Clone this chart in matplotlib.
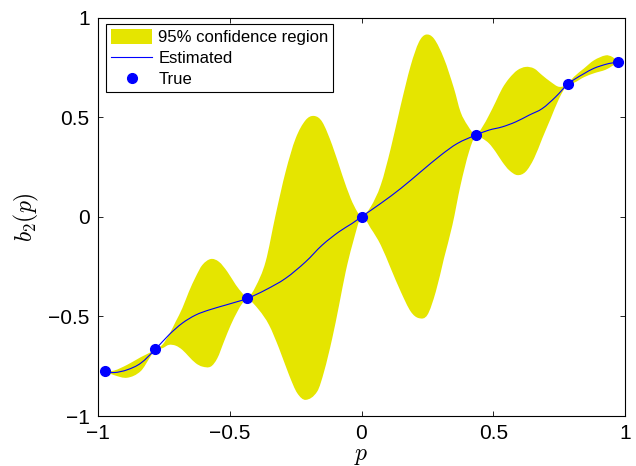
import matplotlib
matplotlib.use("Agg")
import matplotlib.pyplot as plt
from matplotlib.path import Path
from matplotlib.patches import PathPatch
from matplotlib.lines import Line2D
from matplotlib.patches import Patch

# ---- data ----
true_x = [-0.975, -0.782, -0.434, 0.0, 0.434, 0.782, 0.975]
true_y = [-0.775, -0.665, -0.410, 0.0, 0.410, 0.665, 0.775]

upper_x = [-0.975, -0.939, -0.889, -0.838, -0.800, -0.782, -0.756, -0.731, -0.705,
           -0.680, -0.655, -0.629, -0.604, -0.572, -0.541, -0.509, -0.477, -0.452,
           -0.434, -0.402, -0.364, -0.326, -0.288, -0.250, -0.212, -0.180, -0.149,
           -0.111, -0.073, -0.041, -0.016, 0.0, 0.035, 0.073, 0.111, 0.149, 0.187,
           0.218, 0.244, 0.275, 0.313, 0.351, 0.376, 0.402, 0.434, 0.459, 0.484,
           0.509, 0.534, 0.560, 0.591, 0.623, 0.655, 0.686, 0.718, 0.750, 0.782,
           0.806, 0.844, 0.882, 0.927, 0.952, 0.975]
upper_y = [-0.775, -0.772, -0.743, -0.705, -0.680, -0.665, -0.643, -0.593, -0.526,
           -0.459, -0.376, -0.301, -0.242, -0.212, -0.226, -0.276, -0.342, -0.384,
           -0.410, -0.351, -0.226, 0.009, 0.226, 0.393, 0.485, 0.506, 0.476,
           0.359, 0.209, 0.092, 0.025, 0.0, 0.050, 0.159, 0.343, 0.560, 0.760,
           0.877, 0.914, 0.894, 0.794, 0.644, 0.526, 0.460, 0.410, 0.451, 0.510,
           0.576, 0.644, 0.694, 0.735, 0.752, 0.744, 0.710, 0.677, 0.652, 0.665,
           0.702, 0.744, 0.785, 0.810, 0.802, 0.775]

lower_x = [-0.975, -0.939, -0.889, -0.838, -0.800, -0.782, -0.756, -0.731, -0.705,
           -0.680, -0.655, -0.629, -0.604, -0.572, -0.547, -0.522, -0.496, -0.471,
           -0.452, -0.434, -0.389, -0.351, -0.313, -0.275, -0.244, -0.212, -0.168,
           -0.142, -0.111, -0.085, -0.060, -0.035, 0.0, 0.035, 0.073, 0.111, 0.149,
           0.187, 0.218, 0.250, 0.282, 0.313, 0.345, 0.376, 0.408, 0.434, 0.459,
           0.484, 0.509, 0.534, 0.560, 0.591, 0.623, 0.655, 0.686, 0.718, 0.750,
           0.782, 0.806, 0.844, 0.882, 0.927, 0.952, 0.975]
lower_y = [-0.775, -0.795, -0.808, -0.775, -0.700, -0.665, -0.660, -0.643, -0.647,
           -0.668, -0.702, -0.735, -0.752, -0.752, -0.710, -0.627, -0.543, -0.476,
           -0.434, -0.410, -0.468, -0.543, -0.660, -0.794, -0.885, -0.919, -0.877,
           -0.777, -0.610, -0.443, -0.276, -0.142, 0.0, -0.058, -0.142, -0.259, -0.376,
           -0.476, -0.509, -0.493, -0.376, -0.209, -0.042, 0.159, 0.326, 0.410, 0.393,
           0.368, 0.326, 0.276, 0.234, 0.209, 0.226, 0.293, 0.393, 0.493, 0.593,
           0.665, 0.672, 0.700, 0.720, 0.738, 0.757, 0.775]

est_x = [-0.975, -0.939, -0.889, -0.838, -0.782, -0.731, -0.680, -0.629, -0.579,
         -0.515, -0.434, -0.364, -0.288, -0.212, -0.149, -0.085, -0.035, 0.0,
         0.073, 0.149, 0.225, 0.301, 0.364, 0.434, 0.484, 0.534, 0.585, 0.636,
         0.686, 0.737, 0.782, 0.806, 0.844, 0.882, 0.927, 0.952, 0.975]
est_y = [-0.775, -0.782, -0.768, -0.735, -0.665, -0.593, -0.534, -0.493, -0.468,
         -0.443, -0.410, -0.367, -0.309, -0.226, -0.142, -0.075, -0.033, 0.0,
         0.067, 0.142, 0.226, 0.309, 0.368, 0.410, 0.435, 0.451, 0.476, 0.510,
         0.543, 0.602, 0.665, 0.688, 0.718, 0.745, 0.765, 0.772, 0.775]

ticks = [-1, -0.5, 0, 0.5, 1]
tick_labels = ["\u22121", "\u22120.5", "0", "0.5", "1"]


def smooth_segments(xs, ys):
    """Bezier (cubic Hermite) path pieces passing through the given points."""
    n = len(xs)
    m = []
    for i in range(n):
        a = max(i - 1, 0)
        b = min(i + 1, n - 1)
        m.append((ys[b] - ys[a]) / (xs[b] - xs[a]))
    verts = []
    for i in range(n - 1):
        h = xs[i + 1] - xs[i]
        verts += [(xs[i] + h / 3, ys[i] + m[i] * h / 3),
                  (xs[i + 1] - h / 3, ys[i + 1] - m[i + 1] * h / 3),
                  (xs[i + 1], ys[i + 1])]
    return verts


plt.rcParams["font.family"] = ["Liberation Sans", "DejaVu Sans"]
plt.rcParams["mathtext.fontset"] = "cm"

fig = plt.figure(figsize=(6.36, 4.66), dpi=100)
ax = fig.add_axes([98 / 636, 1 - 416 / 466, 527 / 636, 398.5 / 466])

band_color = "#e5e500"
blue = "#0000ff"

# confidence band: upper edge left->right, lower edge right->left
up = smooth_segments(upper_x, upper_y)
lo = smooth_segments(lower_x[::-1], lower_y[::-1])
verts = [(upper_x[0], upper_y[0])] + up + [(lower_x[-1], lower_y[-1])] + lo + [(0, 0)]
codes = ([Path.MOVETO] + [Path.CURVE4] * len(up) + [Path.LINETO]
         + [Path.CURVE4] * len(lo) + [Path.CLOSEPOLY])
ax.add_patch(PathPatch(Path(verts, codes), facecolor=band_color, edgecolor="none",
                       transform=ax.transData))

# estimated curve
ev = smooth_segments(est_x, est_y)
ax.add_patch(PathPatch(Path([(est_x[0], est_y[0])] + ev,
                            [Path.MOVETO] + [Path.CURVE4] * len(ev)),
                       facecolor="none", edgecolor=blue, linewidth=0.8,
                       transform=ax.transData))

ax.plot(true_x, true_y, linestyle="none", marker="o", markersize=7, color=blue)

ax.set_xlim(-1, 1)
ax.set_ylim(-1, 1)
ax.set_xticks(ticks)
ax.set_xticklabels(tick_labels)
ax.set_yticks(ticks)
ax.set_yticklabels(tick_labels)
ax.tick_params(direction="in", length=3.5, width=0.6, top=True, right=True,
               labelsize=15, pad=6)
for s in ax.spines.values():
    s.set_linewidth(0.8)

ax.set_xlabel("$p$", fontsize=17, labelpad=1)
ax.set_ylabel("$b_2(p)$", fontsize=17, labelpad=5)

handles = [Patch(facecolor=band_color, edgecolor="none"),
           Line2D([], [], color=blue, linewidth=0.8),
           Line2D([], [], linestyle="none", marker="o", markersize=7, color=blue)]
labels = ["95% confidence region", "Estimated", "True"]
leg = ax.legend(handles, labels, loc="upper left", bbox_to_anchor=(0.0146, 0.983),
                borderaxespad=0, fontsize=12, fancybox=False, framealpha=1,
                edgecolor="black", handlelength=2.5, handleheight=1.0,
                handletextpad=0.35, labelspacing=0.28, borderpad=0.3)
leg.get_frame().set_linewidth(0.8)

fig.savefig("out.png", dpi=100)
